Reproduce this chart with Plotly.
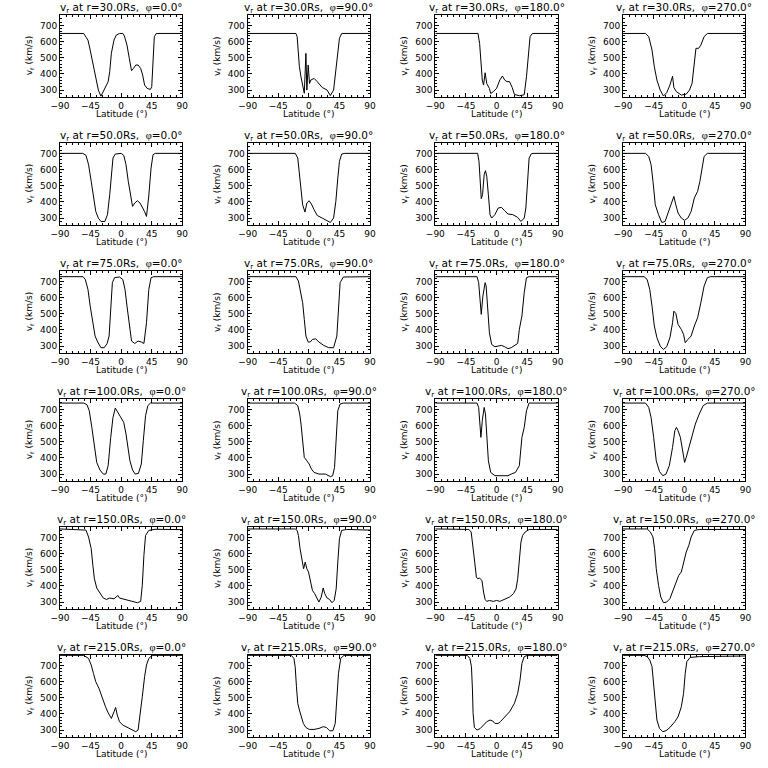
import plotly.graph_objects as go

# ---------------- data (latitude in degrees, v_r in km/s) ----------------
RADII = [30.0, 50.0, 75.0, 100.0, 150.0, 215.0]
PHIS = [0.0, 90.0, 180.0, 270.0]
X_TICKS = [-90, -45, 0, 45, 90]
Y_TICKS = [300, 400, 500, 600, 700]

# r = 30 Rs
LAT_30_0 = [-90, -55, -53.6, -48.8, -45.5, -40.7, -37.3, -33.5, -29.7, -23.9, -19.1, -16.8, -14.4, -10.5, -7.2, -2.4, 2.4, 4.8, 8.6, 12, 15.3, 18.2, 21.5, 24.9, 28.7, 31.6, 34.5, 38.3, 43.1, 45, 46.9, 48.8, 51.7, 90]
V_30_0 = [650, 650, 640, 609, 547, 444, 372, 300, 262, 316, 352, 413, 527, 609, 640, 650, 650, 634, 578, 496, 420, 434, 455, 455, 434, 393, 331, 310, 304, 321, 486, 630, 650, 650]
LAT_30_90 = [-90, -19, -17.2, -13.9, -11.5, -6.7, -4.3, -2.9, -1, 1, 2.9, 7.7, 12.4, 19.6, 26.8, 31.6, 36.4, 41.2, 45, 48.3, 90]
V_30_90 = [650, 650, 630, 444, 380, 280, 527, 300, 455, 341, 362, 372, 352, 316, 300, 266, 300, 486, 620, 650, 650]
LAT_30_180 = [-90, -27.3, -24.9, -23, -21, -19.1, -16.8, -14.4, -10.5, -8.6, -4.8, 0, 4.8, 8.6, 12, 15.3, 19.1, 23, 26.3, 33.5, 40.7, 44, 46.9, 49.3, 52.7, 90]
V_30_180 = [650, 650, 589, 444, 362, 331, 407, 340, 310, 279, 290, 310, 362, 387, 362, 352, 352, 316, 273, 265, 271, 382, 547, 630, 650, 650]
LAT_30_270 = [-90, -57, -52.2, -47.4, -44, -40.2, -35.4, -30.6, -25.8, -21.1, -17.2, -15.3, -11.5, -4.3, 2.9, 7.7, 11.5, 14.8, 17.2, 21.1, 24.4, 29.2, 34, 90]
V_30_270 = [650, 650, 630, 547, 444, 362, 300, 263, 284, 331, 385, 316, 290, 269, 275, 300, 341, 486, 558, 558, 578, 630, 650, 650]

# r = 50 Rs
LAT_50_0 = [-90, -56.5, -51.7, -47.9, -44, -40.7, -37.3, -33.5, -29.7, -23.9, -20.1, -16.8, -14.4, -12, -8.6, 0, 3.8, 7.2, 10.5, 13.4, 16.8, 20.1, 23.9, 27.8, 30.9, 34.5, 37.3, 40.5, 44, 46.9, 50.3, 90]
V_50_0 = [700, 700, 688, 630, 527, 424, 341, 300, 279, 279, 321, 444, 589, 671, 696, 700, 688, 630, 527, 444, 372, 393, 407, 393, 372, 340, 310, 430, 609, 692, 700, 700]
LAT_50_90 = [-90, -20, -16.3, -13.9, -11.5, -9.1, -5.7, -2.9, 0.5, 3.8, 7.7, 12.4, 19.6, 26.8, 31.6, 36.4, 39.7, 42.6, 45, 48.3, 53, 90]
V_50_90 = [700, 700, 671, 568, 444, 382, 337, 393, 407, 387, 352, 316, 300, 284, 273, 300, 403, 547, 650, 696, 700, 700]
LAT_50_180 = [-90, -27.8, -25.8, -23.9, -22.5, -20.6, -18.2, -16.3, -14.4, -12, -9.6, -7.2, -2.4, 2.4, 7.2, 12, 16.8, 23.9, 31.1, 35.9, 40.7, 43.1, 45.5, 47.9, 51.2, 55, 90]
V_50_180 = [700, 700, 650, 486, 420, 444, 568, 593, 558, 444, 321, 300, 321, 362, 366, 345, 325, 321, 304, 279, 300, 362, 547, 671, 698, 700, 700]
LAT_50_270 = [-90, -57, -52.2, -48.8, -46, -42.6, -37.8, -33, -28.2, -23.4, -18.7, -15.3, -12.4, -9.1, -4.3, 0.5, 5.3, 10.1, 14.8, 19.6, 23, 25.8, 29.2, 34, 90]
V_50_270 = [700, 700, 681, 630, 527, 382, 321, 273, 279, 341, 393, 434, 382, 331, 300, 286, 300, 341, 424, 465, 527, 609, 681, 700, 700]

# r = 75 Rs
LAT_75_0 = [-90, -56, -52.7, -48.8, -45.5, -42.1, -38.3, -34.5, -29.7, -24.9, -20.6, -17.7, -15.3, -12.9, -9.6, -2.4, 2.4, 5.7, 8.6, 12, 15.3, 20.1, 24.9, 29.7, 33.5, 37.3, 40.7, 44, 47.9, 90]
V_75_0 = [729, 729, 712, 650, 547, 444, 362, 325, 290, 290, 316, 362, 547, 692, 723, 727, 712, 650, 547, 444, 331, 316, 331, 325, 316, 444, 650, 723, 729, 729]
LAT_75_90 = [-90, -19, -15.3, -12.4, -9.1, -6.7, -4.3, -1, 1.9, 5.3, 10.1, 14.8, 22, 29.2, 36.4, 41.2, 43.6, 46, 50.7, 90]
V_75_90 = [729, 729, 702, 630, 568, 465, 362, 325, 325, 341, 345, 325, 304, 290, 290, 362, 547, 692, 727, 729]
LAT_75_180 = [-90, -28.7, -26.3, -23.9, -22.5, -20.1, -16.8, -15.3, -13.4, -10.5, -7.2, -2.4, 2.4, 7.2, 12, 16.8, 21.5, 26.3, 31.1, 33.5, 37.3, 40.7, 44, 47.9, 90]
V_75_180 = [729, 729, 692, 568, 496, 609, 692, 671, 547, 382, 310, 296, 300, 304, 296, 284, 290, 304, 316, 403, 486, 630, 723, 729, 729]
LAT_75_270 = [-90, -59, -54.6, -50.7, -47.4, -44, -40.2, -35.4, -30.6, -25.8, -21.1, -17.2, -15.3, -12.4, -9.1, -4.3, -1, 1.4, 5.3, 10.1, 14.8, 19.6, 24.4, 29.2, 34, 38.8, 90]
V_75_270 = [729, 729, 712, 650, 547, 424, 352, 300, 279, 296, 352, 444, 516, 502, 434, 403, 372, 321, 341, 362, 424, 475, 568, 671, 723, 729, 729]

# r = 100 Rs
LAT_100_0 = [-90, -55, -50.3, -46.9, -43.1, -39.3, -35.9, -31.1, -26.3, -22.5, -19.1, -15.3, -12, -8.6, -4.8, 0, 3.8, 7.2, 9.6, 12.9, 16.8, 20.6, 25.4, 29.7, 32.6, 35.9, 39.3, 43.1, 90]
V_100_0 = [739, 739, 729, 692, 589, 465, 372, 325, 300, 300, 352, 527, 650, 708, 681, 650, 620, 547, 486, 382, 325, 300, 304, 362, 506, 661, 723, 739, 739]
LAT_100_90 = [-90, -21, -16.3, -13.4, -11.5, -9.1, -6.7, -2.9, 0.5, 3.8, 7.7, 14.8, 24.4, 31.6, 35, 37.8, 40.2, 42.6, 46, 50.7, 90]
V_100_90 = [739, 739, 723, 671, 609, 486, 403, 382, 362, 331, 310, 300, 300, 284, 290, 341, 547, 692, 733, 739, 739]
LAT_100_180 = [-90, -28.7, -26.3, -24.4, -23, -21, -18.2, -16.3, -14.4, -12, -8.6, -2.4, 9.6, 16.8, 21.5, 27.8, 33.5, 37.3, 40.7, 44, 47.9, 90]
V_100_180 = [739, 739, 712, 589, 527, 630, 712, 671, 547, 382, 310, 290, 290, 290, 300, 310, 352, 527, 589, 692, 739, 739]
LAT_100_270 = [-90, -57, -52.2, -48.8, -45, -41.2, -36.4, -31.6, -26.8, -22, -17.2, -13.9, -11.5, -9.1, -5.7, -1.9, 0.5, 2.9, 6.7, 11.5, 16.3, 22, 27.8, 34, 90]
V_100_270 = [739, 739, 712, 650, 527, 382, 316, 290, 300, 352, 465, 568, 589, 568, 527, 444, 372, 403, 465, 527, 609, 671, 723, 739, 739]

# r = 150 Rs
LAT_150_0 = [-90, -60, -51.7, -47.9, -44, -41.6, -39.3, -35.9, -31.1, -26.3, -21.5, -16.8, -10.5, -7.2, -4.8, -2.4, 5, 14.3, 23.9, 28.7, 31.1, 33.5, 35.9, 40.7, 50, 90]
V_150_0 = [752, 748, 745, 702, 630, 527, 444, 387, 352, 325, 316, 325, 320, 335, 341, 325, 316, 304, 296, 304, 403, 589, 712, 743, 750, 748]
LAT_150_90 = [-90, -20, -17.2, -15.3, -12.9, -10.5, -7.7, -5.3, -2.9, -0.5, 1.9, 5.3, 8.6, 11.5, 14.8, 18.2, 21.1, 23.4, 26.8, 30.6, 34, 37.3, 40.2, 42.6, 45, 48.3, 55.5, 90]
V_150_90 = [752, 752, 743, 712, 630, 568, 506, 547, 506, 486, 444, 372, 352, 331, 300, 331, 387, 352, 325, 316, 296, 310, 382, 547, 692, 743, 749, 745]
LAT_150_180 = [-90, -40.7, -37.3, -34.5, -32.1, -29.7, -27.8, -24.9, -21.5, -19.1, -16.8, -14.4, -10.5, -4.8, 0, 4.8, 12, 19.1, 24.9, 28.7, 31.1, 33.5, 35.9, 38.3, 42.1, 47.9, 90]
V_150_180 = [752, 749, 733, 650, 547, 455, 444, 448, 434, 362, 316, 304, 310, 304, 310, 304, 316, 331, 352, 382, 444, 568, 671, 712, 733, 749, 749]
LAT_150_270 = [-90, -54.6, -49.8, -46, -43.6, -41.2, -37.8, -34.5, -30.6, -25.8, -21.1, -16.3, -11.5, -8.1, -4.3, -1, 2.9, 6.7, 10.1, 14.8, 22, 90]
V_150_270 = [752, 752, 733, 702, 630, 506, 403, 331, 296, 300, 321, 372, 424, 465, 486, 547, 609, 650, 702, 743, 749, 749]

# r = 215 Rs
LAT_215_0 = [-90, -55, -47.9, -44, -40.7, -37.3, -32.6, -27.8, -23, -19.1, -14.4, -10.5, -8.1, -5.7, -2.4, 2.4, 9.6, 16.8, 21.5, 24.9, 27.8, 31.1, 34.5, 37.3, 40.7, 45.5, 90]
V_215_0 = [762, 762, 743, 702, 650, 599, 558, 496, 444, 407, 372, 413, 440, 393, 352, 331, 316, 304, 290, 300, 382, 506, 630, 702, 743, 762, 762]
LAT_215_90 = [-90, -25.8, -22, -20.1, -18.2, -16.3, -13.9, -11.5, -8.1, -4.3, 0.5, 7.7, 14.8, 21.1, 25.8, 30.6, 35.4, 38.8, 41.2, 43.6, 46.9, 51.7, 90]
V_215_90 = [762, 762, 743, 692, 568, 465, 424, 382, 341, 316, 304, 304, 310, 321, 316, 296, 296, 341, 486, 650, 743, 762, 762]
LAT_215_180 = [-90, -43, -39.3, -36.9, -35.4, -34.5, -32.6, -28.7, -23.9, -19.1, -14.4, -9.6, -5.7, -2.4, 2.4, 5.7, 12, 19.1, 26.3, 31.1, 34.5, 37.3, 40.7, 45.5, 90]
V_215_180 = [762, 762, 743, 692, 547, 403, 316, 300, 310, 331, 352, 362, 356, 341, 341, 352, 382, 413, 465, 527, 609, 712, 754, 762, 762]
LAT_215_270 = [-90, -59, -54.6, -50.7, -47.4, -45, -42.6, -40.2, -36.4, -31.6, -26.8, -21.1, -13.9, -9.1, -4.3, -1, 1.4, 3.8, 8.6, 22, 90]
V_215_270 = [762, 762, 754, 733, 692, 589, 465, 362, 310, 290, 296, 316, 352, 382, 444, 527, 650, 723, 749, 754, 758]

PANELS = [
    [(LAT_30_0, V_30_0), (LAT_30_90, V_30_90), (LAT_30_180, V_30_180), (LAT_30_270, V_30_270)],
    [(LAT_50_0, V_50_0), (LAT_50_90, V_50_90), (LAT_50_180, V_50_180), (LAT_50_270, V_50_270)],
    [(LAT_75_0, V_75_0), (LAT_75_90, V_75_90), (LAT_75_180, V_75_180), (LAT_75_270, V_75_270)],
    [(LAT_100_0, V_100_0), (LAT_100_90, V_100_90), (LAT_100_180, V_100_180), (LAT_100_270, V_100_270)],
    [(LAT_150_0, V_150_0), (LAT_150_90, V_150_90), (LAT_150_180, V_150_180), (LAT_150_270, V_150_270)],
    [(LAT_215_0, V_215_0), (LAT_215_90, V_215_90), (LAT_215_180, V_215_180), (LAT_215_270, V_215_270)],
]

# ---------------- layout ----------------
W = H = 768
FONT = "DejaVu Sans"
COL_LEFT0, COL_PITCH, PANEL_W = 51.0, 191.7, 125.0
ROW_TOP0, ROW_PITCH, PANEL_H = 14.7, 128.0, 82.0
Y_RANGE = [259, 766]

fig = go.Figure()
annotations = []
axis_common = dict(showline=True, linecolor="black", linewidth=1, mirror="allticks",
                   ticks="inside", ticklen=4, tickcolor="black", showgrid=False,
                   zeroline=False, tickfont=dict(family=FONT, size=9, color="black"))

PHI_HTML = '<span style="font-family:Liberation Serif;color:#000000">\u03c6</span>'

for r_i, r in enumerate(RADII):
    for c_i, phi in enumerate(PHIS):
        k = r_i * 4 + c_i + 1
        lat, v = PANELS[r_i][c_i]
        xs = "x" if k == 1 else f"x{k}"
        ys = "y" if k == 1 else f"y{k}"
        fig.add_trace(go.Scatter(x=lat, y=v, mode="lines", xaxis=xs, yaxis=ys,
                                 line=dict(color="black", width=1), showlegend=False,
                                 hoverinfo="skip"))
        left = COL_LEFT0 + COL_PITCH * c_i
        top = ROW_TOP0 + ROW_PITCH * r_i
        xd = [left / W, (left + PANEL_W) / W]
        yd = [1 - (top + PANEL_H) / H, 1 - top / H]
        xa = "xaxis" if k == 1 else f"xaxis{k}"
        ya = "yaxis" if k == 1 else f"yaxis{k}"
        fig.layout[xa] = dict(domain=xd, anchor=ys, range=[-90, 90],
                              tickvals=X_TICKS,
                              ticktext=[str(t).replace("-", "\u2212") for t in X_TICKS],
                              minor=dict(ticks="inside", ticklen=2, dtick=9, tickcolor="black"),
                              **axis_common)
        fig.layout[ya] = dict(domain=yd, anchor=xs, range=Y_RANGE, tickvals=Y_TICKS,
                              minor=dict(ticks="inside", ticklen=2, dtick=20, tickcolor="black"),
                              **axis_common)
        cx = (left + PANEL_W / 2) / W
        annotations.append(dict(text=f"v<sub>r</sub> at r={r:.1f}Rs,\u00a0 {PHI_HTML}={phi:.1f}\u00b0",
                                x=cx, y=1 - (top - 7) / H, xref="paper", yref="paper",
                                xanchor="center", yanchor="middle", showarrow=False,
                                font=dict(family=FONT, size=10.5, color="black")))
        annotations.append(dict(text="Latitude (\u00b0)", x=cx, y=1 - (top + PANEL_H + 17) / H,
                                xref="paper", yref="paper", xanchor="center", yanchor="middle",
                                showarrow=False, font=dict(family=FONT, size=9, color="black")))
        annotations.append(dict(text="v<sub>r</sub> (km/s)", x=(left - 31) / W,
                                y=1 - (top + PANEL_H / 2) / H, xref="paper", yref="paper",
                                xanchor="center", yanchor="middle", textangle=-90,
                                showarrow=False, font=dict(family=FONT, size=9, color="black")))

fig.update_layout(width=W, height=H, margin=dict(l=0, r=0, t=0, b=0),
                  paper_bgcolor="white", plot_bgcolor="white",
                  annotations=annotations, showlegend=False)
fig.write_html("out.html", config={"displayModeBar": False, "staticPlot": True},
               post_script="document.body.style.margin='0px';document.body.style.overflow='hidden';")
